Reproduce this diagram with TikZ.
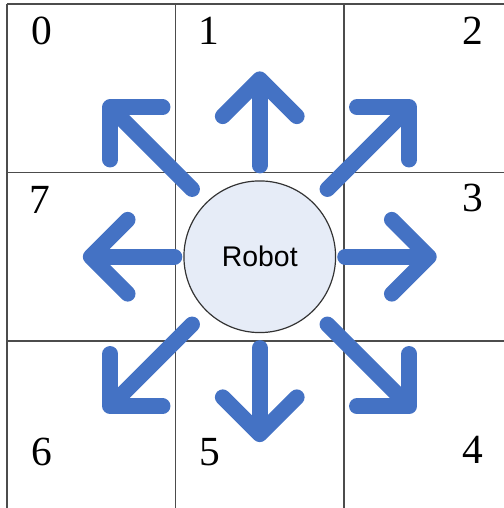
\documentclass[tikz,border=0pt]{standalone}
\usepackage{fontspec}
\setmainfont{Liberation Serif}
\newfontfamily\robotfont{Liberation Sans}
\usetikzlibrary{arrows.meta}

\definecolor{moveblue}{HTML}{4472C4}
\definecolor{robotfill}{HTML}{E6ECF7}

\tikzset{
  cellnum/.style={font=\fontsize{14}{16}\selectfont},
  robot/.style={circle, draw=black!80, line width=0.4pt, fill=robotfill,
    minimum size=1.8cm, inner sep=0pt,
    font=\robotfont\fontsize{9.6}{11}\selectfont},
  move/.style={line width=5.3pt, moveblue, line cap=round,
    -{Straight Barb[length=12.5pt,width=25pt,round]}},
}

\begin{document}
\begin{tikzpicture}[scale=2]
\useasboundingbox (-0.0415,0.009) rectangle (2.944,3.0237);
\draw[line width=0.6pt, black!70] (0,0) grid (3,3);

% cell numbers
\node[cellnum] (n0) at (0.208,2.84) {0};
\node[cellnum] (n1) at (1.200,2.84) {1};
\node[cellnum] (n2) at (2.766,2.84) {2};
\node[cellnum] (n3) at (2.766,1.85) {3};
\node[cellnum] (n4) at (2.766,0.353) {4};
\node[cellnum] (n5) at (1.205,0.341) {5};
\node[cellnum] (n6) at (0.208,0.341) {6};
\node[cellnum] (n7) at (0.196,1.837) {7};

\node[robot] (robot) at (1.5,1.5) {Robot};

% where each move points to
\coordinate (t0) at (0.58,2.42);
\coordinate (t1) at (1.5,2.6);
\coordinate (t2) at (2.42,2.42);
\coordinate (t3) at (2.55,1.5);
\coordinate (t4) at (2.42,0.58);
\coordinate (t5) at (1.5,0.4);
\coordinate (t6) at (0.58,0.58);
\coordinate (t7) at (0.45,1.5);

\draw[move, shorten <=6.5pt] (robot.135) -- (t0);
\draw[move, shorten <=5pt] (robot.north) -- (t1);
\draw[move, shorten <=6.5pt] (robot.45) -- (t2);
\draw[move, shorten <=3pt] (robot.east) -- (t3);
\draw[move, shorten <=6.5pt] (robot.-45) -- (t4);
\draw[move, shorten <=5pt] (robot.south) -- (t5);
\draw[move, shorten <=6.5pt] (robot.-135) -- (t6);
\draw[move, shorten <=3pt] (robot.west) -- (t7);
\end{tikzpicture}
\end{document}
